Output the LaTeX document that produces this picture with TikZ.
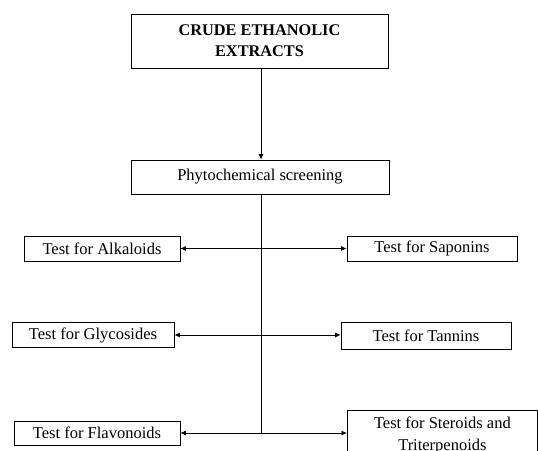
\documentclass[tikz,border=0pt]{standalone}
\usepackage{fontspec}
\setmainfont{Liberation Serif}
\usetikzlibrary{arrows.meta}
\begin{document}
\begin{tikzpicture}[x=1pt,y=-1pt,
  box/.style={draw,line width=0.8pt,inner sep=0pt,font=\fontsize{16.5}{19}\selectfont},
  arr/.style={line width=0.8pt,-{Latex[length=5.5pt,width=5pt]}},
  darr/.style={line width=0.8pt,{Latex[length=5.5pt,width=5pt]}-{Latex[length=5.5pt,width=5pt]}}]
\useasboundingbox (0,0) rectangle (538,450);
\clip (0,0) rectangle (538,450);
\node[box,minimum width=257pt,minimum height=54pt,align=center,font=\fontsize{16.3}{21}\selectfont\bfseries] (crude) at (259.5,41) {CRUDE ETHANOLIC\\EXTRACTS};
\node[box,minimum width=258pt,minimum height=34pt] (phyto) at (260,177) {\raisebox{4pt}{Phytochemical screening}};
\node[box,minimum width=156pt,minimum height=25pt] (alk) at (102,248.5) {Test for Alkaloids\hspace{12pt}};
\node[box,minimum width=170pt,minimum height=25pt] (sap) at (432,248.5) {Test for Saponins};
\node[box,minimum width=162pt,minimum height=25pt] (gly) at (93,335) {Test for Glycosides\hspace{10pt}};
\node[box,minimum width=170pt,minimum height=27pt] (tan) at (426,336) {Test for Tannins};
\node[box,minimum width=166pt,minimum height=24pt] (fla) at (97,433) {Test for Flavonoids\hspace{12pt}};
\node[box,minimum width=190pt,minimum height=50pt,align=center,anchor=north west,font=\fontsize{16.5}{22}\selectfont] (ste) at (347,410) {Test for Steroids and\\Triterpenoids};
\coordinate (bot) at (261,433);
\draw[arr] (crude.south -| bot) -- (phyto.north -| bot);
\draw[line width=0.8pt] (phyto.south -| bot) -- (bot);
\draw[darr] (alk.east) -- (sap.west |- alk.east);
\draw[darr] (gly.east) -- (tan.west |- gly.east);
\draw[darr] (fla.east) -- (ste.west |- fla.east);
\end{tikzpicture}
\end{document}
